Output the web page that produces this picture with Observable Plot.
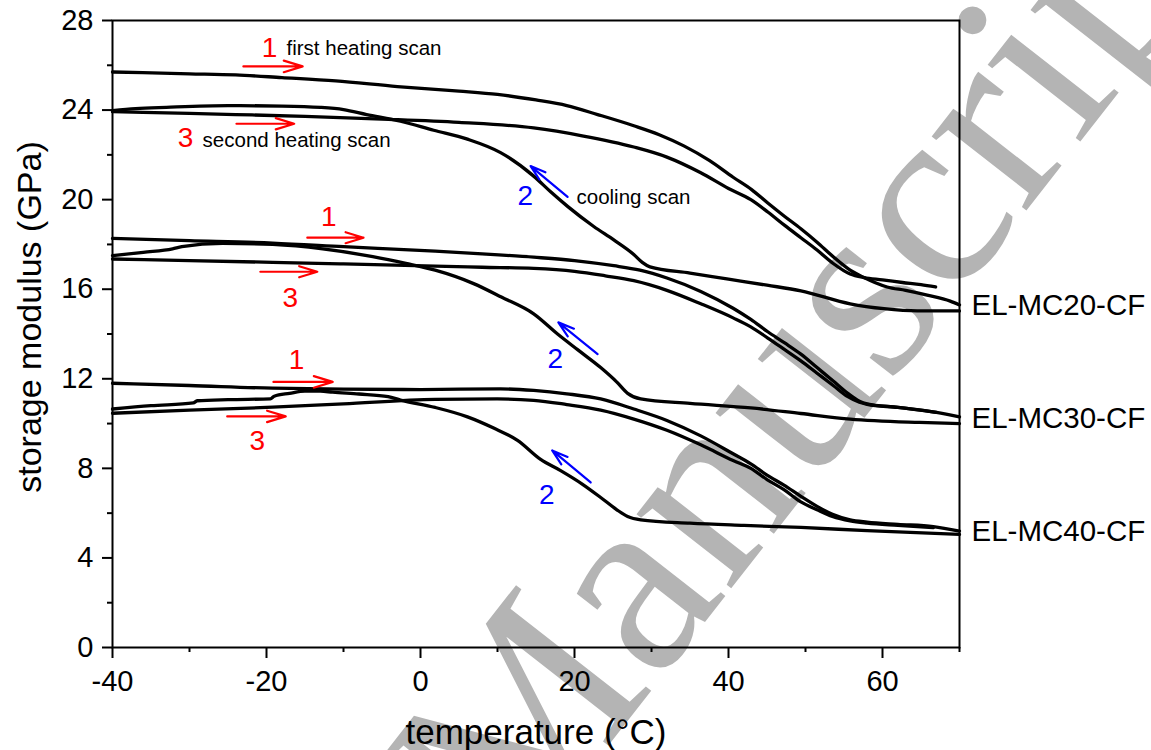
<!DOCTYPE html>
<html>
<head>
<meta charset="utf-8">
<script src="https://cdn.jsdelivr.net/npm/d3@7"></script>
<script src="https://cdn.jsdelivr.net/npm/@observablehq/plot@0.6"></script>
<style>
html, body { margin: 0; padding: 0; background: #fff; overflow: hidden; }
</style>
</head>
<body>
<div id="chart"></div>
<script>
// ---------- data: [temperature °C, storage modulus GPa] ----------
const mc20Heat1 = [[-40,25.7],[-30,25.62],[-24,25.57],[-18,25.45],[-11,25.3],[-3,25.05],[5,24.85],[10,24.7],[15,24.45],[19,24.2],[23,23.8],[27.7,23.3],[31,22.9],[34.2,22.4],[37.5,21.75],[40.6,21.0],[43,20.45],[45.1,19.85],[47.3,19.25],[49.4,18.7],[51.5,18.1],[53.6,17.45],[55.8,16.85],[57.6,16.52],[59,16.3],[60.6,16.1],[63,15.95],[65.8,15.74],[68.8,15.47],[70,15.3]];
const mc20Cool2 = [[-40,23.97],[-37,24.06],[-33,24.12],[-25,24.2],[-18,24.18],[-13,24.12],[-10,24.02],[-7,23.8],[-2.6,23.5],[1.7,23.1],[6.1,22.7],[10.4,22.1],[14.7,21.05],[16.9,20.35],[19.1,19.7],[22.5,18.8],[25.1,18.2],[27.7,17.55],[28.8,17.2],[29.8,17.0],[35,16.72],[40,16.45],[45,16.18],[49.4,15.93],[55.8,15.35],[60.2,15.13],[64.5,15.03],[70,15.03]];
const mc20Heat3 = [[-40,23.93],[-30,23.85],[-24,23.8],[-15,23.72],[-5,23.6],[5,23.45],[14.7,23.2],[21,22.85],[27.7,22.35],[32,21.9],[36.4,21.2],[40,20.5],[42.9,20.0],[45.1,19.45],[47.3,18.85],[49.4,18.3],[51.5,17.75],[53.6,17.15],[55.8,16.68],[57.6,16.52],[60,16.42],[62.6,16.3],[65,16.2],[66.9,16.1]];

const mc30Heat1 = [[-40,18.27],[-30,18.17],[-19.2,18.06],[-10,17.9],[1.9,17.7],[8,17.58],[14.7,17.43],[20,17.28],[25.1,17.05],[28.5,16.85],[32,16.5],[36.4,15.9],[40.6,15.15],[42.9,14.65],[45.1,14.1],[47.3,13.6],[49.4,13.1],[51.5,12.5],[53.6,11.9],[55.5,11.35],[57,11.0],[58,10.88],[62,10.72],[67,10.5],[70,10.3]];
const mc30Cool2 = [[-40,17.5],[-36,17.65],[-32.2,17.8],[-31,17.9],[-25.7,18.05],[-19.2,18.0],[-12.7,17.8],[-6.2,17.45],[-1.9,17.15],[1.9,16.85],[6.9,16.25],[10.5,15.65],[14.7,14.9],[17.8,14.0],[20.4,13.3],[23.4,12.5],[25.5,11.85],[26.9,11.35],[28.6,11.1],[35,10.9],[42.9,10.7],[49.4,10.45],[55.8,10.2],[64.8,10.05],[70,10.0]];
const mc30Heat3 = [[-40,17.35],[-30,17.28],[-19.2,17.2],[-10,17.13],[1.9,17.03],[8,16.98],[14.7,16.93],[20,16.8],[24,16.6],[27.7,16.38],[32,15.95],[36.4,15.35],[40.6,14.72],[42.9,14.32],[45.1,13.82],[47.3,13.3],[49.4,12.8],[51.5,12.25],[53.6,11.7],[55.5,11.2],[57,10.95],[58,10.86],[62,10.72],[67,10.5]];

const mc40Heat1 = [[-40,11.8],[-30,11.7],[-19.2,11.58],[-10,11.54],[0,11.52],[10.4,11.55],[14.7,11.48],[19,11.33],[23.4,11.1],[27.7,10.65],[32,10.14],[36.4,9.45],[40.6,8.65],[42.9,8.2],[45,7.7],[47.2,7.25],[49.4,6.75],[51.5,6.3],[53.5,5.95],[55.8,5.7],[58,5.6],[62,5.5],[66.6,5.4],[70,5.2]];
const mc40Cool2 = [[-40,10.65],[-35,10.8],[-29.5,10.92],[-29,11.02],[-25,11.07],[-19.5,11.1],[-19,11.22],[-17,11.35],[-15,11.45],[-13,11.45],[-11.4,11.4],[-8,11.32],[-4.2,11.2],[-2.6,11.05],[1.9,10.72],[6.1,10.3],[9.5,9.8],[12.6,9.25],[15.6,8.4],[18.2,7.9],[21,7.3],[23.4,6.7],[25.5,6.15],[26.9,5.85],[28.6,5.7],[35,5.55],[42,5.45],[49.4,5.36],[58,5.22],[70,5.05]];
const mc40Heat3 = [[-40,10.46],[-30,10.6],[-19.2,10.73],[-10,10.88],[1.9,11.08],[10,11.1],[14.7,11.04],[19,10.85],[23.4,10.6],[27.7,10.2],[32,9.7],[36.4,9.05],[40.6,8.35],[42.9,8.0],[45,7.5],[47.2,7.05],[49.4,6.5],[51.5,6.15],[53.5,5.85],[55.8,5.65],[58,5.55],[62,5.45],[66.6,5.35]];

// ---------- ticks & labels ----------
const xTicks = [-40, -20, 0, 20, 40, 60];
const xMinor = [-30, -10, 10, 30, 50, 70];
const yTicks = [0, 4, 8, 12, 16, 20, 24, 28];
const yMinor = [2, 6, 10, 14, 18, 22, 26];
const xLabel = "temperature (°C)";
const yLabel = "storage modulus (GPa)";

const seriesNames = ["EL-MC20-CF", "EL-MC30-CF", "EL-MC40-CF"];
const seriesLabelY = [14.84, 9.79, 4.77];

// scan numbers (1, 3 red; 2 blue)
const numText = ["1", "3", "1", "3", "1", "3", "2", "2", "2"];
const numX = [-19.6, -30.5, -11.9, -16.9, -16.1, -21.2, 13.6, 17.5, 16.4];
const numY = [26.38, 22.36, 18.82, 15.2, 12.43, 8.8, 19.76, 12.47, 6.43];
const numColor = ["red", "red", "red", "red", "red", "red", "blue", "blue", "blue"];

// scan descriptions
const noteText = ["first heating scan", "second heating scan", "cooling scan"];
const noteX = [-17.4, -28.3, 20.26];
const noteY = [26.47, 22.36, 19.8];

// heating arrows (red, horizontal)
const redX1 = [-23.0, -23.9, -14.7, -20.8, -19.1, -25.1];
const redX2 = [-15.3, -16.4, -7.4, -13.4, -11.4, -17.5];
const redY = [25.95, 23.39, 18.3, 16.78, 11.86, 10.32];

// cooling arrows (blue)
const blueX1 = [19.1, 23.0, 22.1];
const blueY1 = [20.12, 13.1, 7.37];
const blueX2 = [14.3, 17.9, 17.1];
const blueY2 = [21.5, 14.52, 8.8];

// watermark
const wmText = ["Manuscript"];
const wmX = [11.95];
const wmY = [-9.86];

// ---------- build table ----------
const curves = [
  ["MC20", "heat1", mc20Heat1], ["MC20", "cool2", mc20Cool2], ["MC20", "heat3", mc20Heat3],
  ["MC30", "heat1", mc30Heat1], ["MC30", "cool2", mc30Cool2], ["MC30", "heat3", mc30Heat3],
  ["MC40", "heat1", mc40Heat1], ["MC40", "cool2", mc40Cool2], ["MC40", "heat3", mc40Heat3]
];
const table = curves.flatMap(([s, scan, pts]) => pts.map(([T, E]) => ({curve: s + scan, T, E})));

const idx = (arr) => arr.map((_, i) => i);

const chart = Plot.plot({
  width: 1151,
  height: 750,
  marginLeft: 112,
  marginRight: 192,
  marginTop: 20,
  marginBottom: 103,
  x: {domain: [-40, 70]},
  y: {domain: [0, 28]},
  style: {fontFamily: "'Liberation Sans', Arial, sans-serif", background: "white", color: "black"},
  marks: [
    Plot.text(wmText, {x: wmX, y: wmY, text: wmText, rotate: -52, fontSize: 262,
      fontFamily: "'Liberation Serif', 'Times New Roman', serif", fill: "#b4b4b4",
      textAnchor: "start", lineAnchor: "bottom"}),
    Plot.axisX({ticks: xTicks, tickSize: 11, tickPadding: 12, fontSize: 29, strokeWidth: 2, label: null, tickFormat: d => String(d)}),
    Plot.axisX({ticks: xMinor, tickSize: 5, strokeWidth: 2, label: null, tickFormat: () => ""}),
    Plot.axisY({ticks: yTicks, tickSize: 10, tickPadding: 9, fontSize: 29, strokeWidth: 2, label: null, tickFormat: d => String(d)}),
    Plot.axisY({ticks: yMinor, tickSize: 5, strokeWidth: 2, label: null, tickFormat: () => ""}),
    Plot.frame({stroke: "black", strokeWidth: 2}),
    Plot.line(table, {x: "T", y: "E", z: "curve", stroke: "black", strokeWidth: 3.3, curve: "monotone-x"}),
    Plot.arrow(idx(redY), {x1: redX1, x2: redX2, y1: redY, y2: redY, stroke: "red", strokeWidth: 2.2, headLength: 14, headAngle: 34}),
    Plot.arrow(idx(blueY1), {x1: blueX1, y1: blueY1, x2: blueX2, y2: blueY2, stroke: "blue", strokeWidth: 2.2, headLength: 14, headAngle: 34}),
    Plot.text(numText, {x: numX, y: numY, text: numText, fill: numColor, fontSize: 28, textAnchor: "middle", lineAnchor: "bottom"}),
    Plot.text(noteText, {x: noteX, y: noteY, text: noteText, fill: "black", fontSize: 20.5, textAnchor: "start", lineAnchor: "bottom"}),
    Plot.text(seriesNames, {x: seriesNames.map(() => 70), y: seriesLabelY, text: seriesNames, dx: 12, fill: "black", fontSize: 29.5, textAnchor: "start", lineAnchor: "bottom"}),
    Plot.text([xLabel], {frameAnchor: "bottom", text: d => d, dy: 96, fontSize: 35, textAnchor: "middle", lineAnchor: "bottom", fill: "black"}),
    Plot.text([yLabel], {frameAnchor: "left", text: d => d, dx: -82, dy: -17, rotate: -90, fontSize: 34, textAnchor: "middle", lineAnchor: "middle", fill: "black"})
  ]
});
document.getElementById("chart").appendChild(chart);
</script>
</body>
</html>
